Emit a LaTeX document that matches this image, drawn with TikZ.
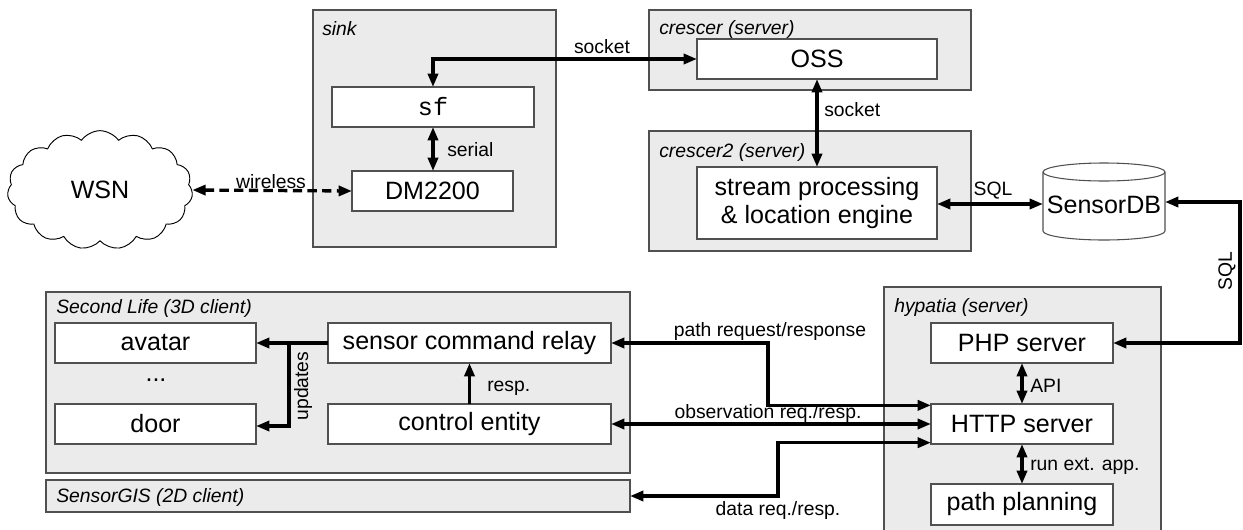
\documentclass[tikz,border=0pt]{standalone}
\usepackage{fontspec}
\setmainfont{Liberation Sans}
\setmonofont{Liberation Mono}
\usetikzlibrary{shapes.symbols,arrows.meta}
\definecolor{grp}{HTML}{EBEBEB}
\definecolor{edgec}{HTML}{505050}
\tikzset{
 group/.style={draw=edgec, fill=grp, line width=0.8pt, inner sep=0pt, outer sep=0pt},
 box/.style={draw=edgec, fill=white, line width=0.8pt, inner sep=0pt, outer sep=0pt, font=\fontsize{18.8}{21}\selectfont},
 ttl/.style={font=\fontsize{14.5}{16}\selectfont\itshape, anchor=west, inner sep=0pt},
 lbl/.style={font=\fontsize{14.5}{16}\selectfont, inner sep=0pt},
 tip/.tip={Triangle[length=10pt,width=7.5pt]},
 conn/.style={line width=2.5pt, -tip},
 biconn/.style={line width=2.5pt, tip-tip},
}
\begin{document}
\begin{tikzpicture}[x=0.75pt,y=-0.75pt]
\useasboundingbox (0,0) rectangle (1243,529);
% groups
\node[group, minimum width=182.25pt, minimum height=177.75pt] (sink) at (434.5,128.5) {};
\node[group, minimum width=241.5pt, minimum height=60pt] (crescer) at (810,50) {};
\node[group, minimum width=241.5pt, minimum height=90pt] (crescer2) at (810,191) {};
\node[group, minimum width=438pt, minimum height=135.75pt] (sl) at (338,382.5) {};
\node[group, minimum width=438pt, minimum height=24pt] (gis) at (338,496) {};
\node[group, minimum width=207.75pt, minimum height=183pt] (hyp) at (1022.5,409) {};
% titles
\node[ttl] (tsink) at (322,29) {sink};
\node[ttl] (tcr) at (659,29) {crescer (server)};
\node[ttl] (tcr2) at (659,152) {crescer2 (server)};
\node[ttl] (tsl) at (56,308) {Second Life (3D client)};
\node[ttl] (tgis) at (56,497) {SensorGIS (2D client)};
\node[ttl] (thyp) at (894,307) {hypatia (server)};
% cloud
\node[cloud, draw=black, fill=white, line width=0.7pt, cloud puffs=15, cloud puff arc=110, aspect=1.55, minimum width=139pt, minimum height=89pt, inner sep=0pt, font=\fontsize{18.8}{21}\selectfont] (wsn) at (100,190) {WSN};
% boxes
\node[box, minimum width=151.5pt, minimum height=30pt] (sf) at (433,107) {\ttfamily sf};
\node[box, minimum width=120.75pt, minimum height=30pt] (dm) at (432.5,191) {DM2200};
\node[box, minimum width=180pt, minimum height=30pt] (oss) at (817,59) {OSS};
\node[box, minimum width=180pt, minimum height=54pt, align=center] (sp) at (817,203) {stream processing\\\& location engine};
% cylinder
\draw[draw=edgec, fill=white, line width=0.8pt] (1043,172) -- (1043,231) arc[start angle=180, end angle=360, x radius=45.75pt, y radius=6.75pt] -- (1165,172) arc[start angle=0, end angle=180, x radius=45.75pt, y radius=6.75pt] -- cycle;
\draw[draw=edgec, line width=0.8pt] (1043,172) arc[start angle=180, end angle=360, x radius=45.75pt, y radius=6.75pt];
\node[inner sep=0pt, outer sep=0pt, minimum width=91.5pt, minimum height=30pt, font=\fontsize{18.8}{21}\selectfont] (db) at (1104,205) {SensorDB};
\node[box, minimum width=150.75pt, minimum height=30pt] (avatar) at (155.5,343) {avatar};
\node[box, minimum width=150.75pt, minimum height=30pt] (door) at (155.5,424) {door};
\node[font=\fontsize{18.8}{21}\selectfont, inner sep=0pt] (dots) at (156,380) {...};
\node[box, minimum width=212.25pt, minimum height=30pt] (relay) at (469.5,343) {sensor command relay};
\node[box, minimum width=212.25pt, minimum height=30pt] (ctrl) at (469.5,424) {control entity};
\node[box, minimum width=136.5pt, minimum height=30pt] (php) at (1022,343) {PHP server};
\node[box, minimum width=136.5pt, minimum height=30pt] (http) at (1022,424) {HTTP server};
\node[box, minimum width=136.5pt, minimum height=30.75pt] (pp) at (1022,504.5) {path planning};
% coordinates
\coordinate (sqlc) at (1240,270);
\coordinate (prx) at (768,380);
\coordinate (drx) at (778,470);
\coordinate (upd) at (289,343);
% connectors
\draw[biconn] (sf.north) |- (oss.west);
\node[lbl] (lsock1) at (602,47) {socket};
\draw[biconn] (sf.south) -- (sf.south |- dm.north);
\node[lbl, anchor=west] (lserial) at (447,150) {serial};
\draw[biconn, dash pattern=on 7pt off 4pt] (wsn.east) -- (dm.west);
\node[lbl] (lwire) at (271,182) {wireless};
\draw[biconn] (oss.south) -- (sp.north);
\node[lbl, anchor=west] (lsock2) at (824,110) {socket};
\draw[biconn] (sp.east |- 0,204) -- (db.west |- 0,204);
\node[lbl] (lsql1) at (993,191) {SQL};
\draw[biconn] (db.east |- 0,202) -| (sqlc) |- (php.east);
\node[lbl, rotate=90] (lsql2) at (1227,271) {SQL};
\draw[biconn] (php.south) -- (http.north);
\node[lbl, anchor=west] (lapi) at (1030,386) {API};
\draw[biconn] (http.south) -- (pp.north);
\node[lbl, anchor=west] (lrun) at (1030,466) {run ext. app.};
\draw[biconn] (relay.east) -| (prx) |- ([yshift=14pt]http.west);
\node[lbl] (lpath) at (770,331) {path request/response};
\draw[biconn] (ctrl.east) -- (http.west);
\node[lbl] (lobs) at (768,413) {observation req./resp.};
\draw[biconn] ([yshift=-14pt]http.west) -| (drx) |- (gis.east);
\node[lbl] (ldata) at (778,510) {data req./resp.};
\draw[conn] (relay.west) -- (avatar.east);
\draw[conn] (upd) |- ([yshift=-1.5pt]door.east);
\node[lbl, rotate=90] (lupd) at (303,386) {updates};
\draw[conn] (ctrl.north) -- (relay.south);
\node[lbl, anchor=west] (lresp) at (487,388) {resp.};
\end{tikzpicture}
\end{document}
